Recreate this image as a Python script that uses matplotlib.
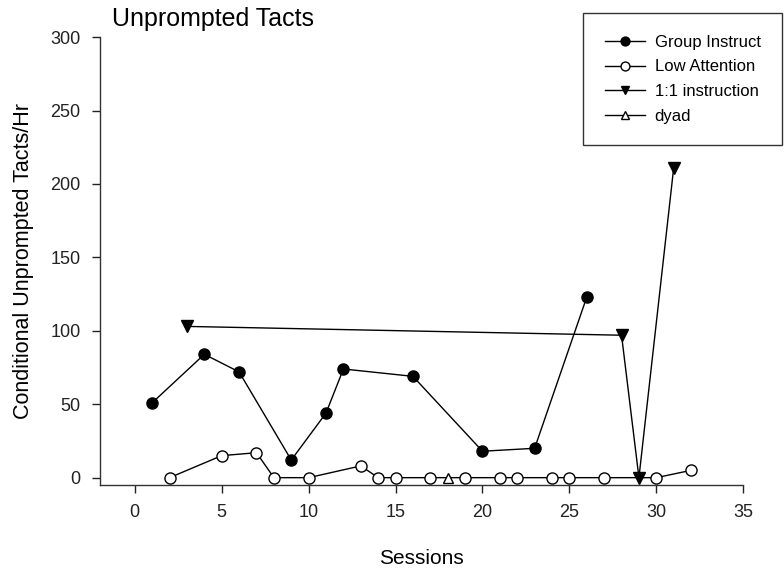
import matplotlib
matplotlib.use("Agg")
import matplotlib.pyplot as plt

plt.rcParams['font.family'] = ['Liberation Sans', 'DejaVu Sans']

group_x = [1, 4, 6, 9, 11, 12, 16, 20, 23, 26]
group_y = [51, 84, 72, 12, 44, 74, 69, 18, 20, 123]

low_x = [2, 5, 7, 8, 10, 13, 14, 15, 17, 19, 21, 22, 24, 25, 27, 30, 32]
low_y = [0, 15, 17, 0, 0, 8, 0, 0, 0, 0, 0, 0, 0, 0, 0, 0, 5]

one_x = [3, 28, 29, 31]
one_y = [103, 97, 0, 211]

dyad_x = [18]
dyad_y = [0]

xticks = [0, 5, 10, 15, 20, 25, 30, 35]
yticks = [0, 50, 100, 150, 200, 250, 300]

fig = plt.figure(figsize=(7.84, 5.71), dpi=100)
ax = fig.add_axes([0.1276, 0.1506, 0.8204, 0.7844])

ax.plot(group_x, group_y, '-o', color='black', mfc='black', mec='black', ms=8, lw=1, label='Group Instruct', zorder=3)
ax.plot(low_x, low_y, '-o', color='black', mfc='white', mec='black', ms=8, lw=1, label='Low Attention', zorder=3)
ax.plot(one_x, one_y, '-v', color='black', mfc='black', mec='black', ms=8, lw=1, label='1:1 instruction', zorder=4)
ax.plot(dyad_x, dyad_y, '-^', color='black', mfc='white', mec='black', ms=7, lw=1, label='dyad', zorder=3)

ax.set_xlim(-2, 35)
ax.set_ylim(-5, 300)
ax.set_xticks(xticks)
ax.set_yticks(yticks)
ax.spines['top'].set_visible(False)
ax.spines['right'].set_visible(False)
for s in ['left', 'bottom']:
    ax.spines[s].set_color('#333333')
    ax.spines[s].set_linewidth(1)
ax.tick_params(direction='out', length=6, width=1, labelsize=13, colors='#222222', pad=8)

ax.set_xlabel('Sessions', fontsize=15, labelpad=20)
ax.set_ylabel('Conditional Unprompted Tacts/Hr', fontsize=15.5, labelpad=12)
fig.text(0.143, 1 - 26/571, 'Unprompted Tacts', fontsize=18, ha='left', va='baseline')

leg = ax.legend(loc='upper left', bbox_to_anchor=(583/784, 1 - 13/571), bbox_transform=fig.transFigure,
                frameon=True, fancybox=False, edgecolor='black', fontsize=12,
                borderpad=1.3, handlelength=2.4, handletextpad=0.6, labelspacing=0.58,
                borderaxespad=0, markerscale=0.8)
leg.get_frame().set_linewidth(1)

fig.savefig('out.png', dpi=100)
